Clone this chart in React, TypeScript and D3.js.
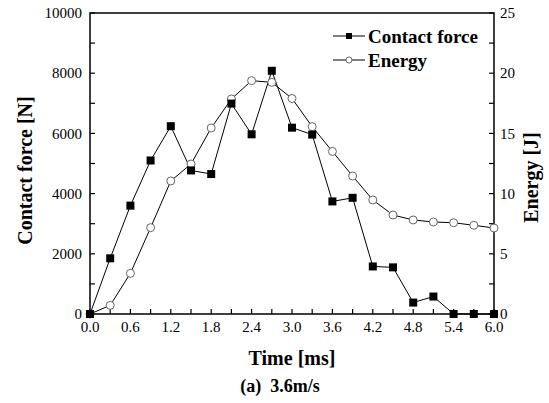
import React from "react";
import * as d3 from "d3";

const times = [0, 0.3, 0.6, 0.9, 1.2, 1.5, 1.8, 2.1, 2.4, 2.7, 3.0, 3.3, 3.6, 3.9, 4.2, 4.5, 4.8, 5.1, 5.4, 5.7, 6.0];
const contactForce = [0, 1850, 3600, 5100, 6240, 4770, 4650, 6990, 5970, 8080, 6190, 5960, 3740, 3860, 1580, 1550, 380, 580, 0, 0, 0];
const energy = [0, 0.72, 3.38, 7.17, 11.05, 12.46, 15.45, 17.86, 19.38, 19.24, 17.9, 15.56, 13.5, 11.46, 9.47, 8.22, 7.81, 7.64, 7.58, 7.37, 7.14];
const xTicks = [0, 0.6, 1.2, 1.8, 2.4, 3.0, 3.6, 4.2, 4.8, 5.4, 6.0];
const yLeftTicks = [0, 2000, 4000, 6000, 8000, 10000];
const yRightTicks = [0, 5, 10, 15, 20, 25];

const W = 549, H = 403;
const L = 90, R = 494, T = 13, B = 314;
const FONT = "Liberation Serif, Times New Roman, Times, DejaVu Serif, serif";

export default function App() {
  const x = d3.scaleLinear().domain([0, 6]).range([L, R]);
  const yL = d3.scaleLinear().domain([0, 10000]).range([B, T]);
  const yR = d3.scaleLinear().domain([0, 25]).range([B, T]);
  const lineF = d3.line<number>().x((_, i) => x(times[i])).y((d) => yL(d));
  const lineE = d3.line<number>().x((_, i) => x(times[i])).y((d) => yR(d));
  const minorX = d3.range(0, 6.001, 0.3);
  const minorYL = d3.range(0, 10001, 1000);
  const minorYR = d3.range(0, 25.001, 2.5);
  const tk = 5;
  const ts = { fontFamily: FONT };

  return (
    <svg width={W} height={H} style={{ position: "absolute", left: 0, top: 0, background: "#fff", fontFamily: FONT }}>
      <rect x={0} y={0} width={W} height={H} fill="#fff" />
      <g stroke="#000" strokeWidth={1.2}>
        {minorX.map((v, i) => (
          <line key={"x" + i} x1={x(v)} x2={x(v)} y1={B} y2={B - tk} />
        ))}
        {minorYL.map((v, i) => (
          <line key={"yl" + i} x1={L} x2={L + tk} y1={yL(v)} y2={yL(v)} />
        ))}
        {minorYR.map((v, i) => (
          <line key={"yr" + i} x1={R} x2={R - tk} y1={yR(v)} y2={yR(v)} />
        ))}
      </g>
      <rect x={L} y={T} width={R - L} height={B - T} fill="none" stroke="#000" strokeWidth={1.5} />
      <g fill="#000">
        {xTicks.map((v) => (
          <text key={"xl" + v} x={x(v)} y={332} textAnchor="middle" style={{ ...ts, fontSize: 15 }}>{v.toFixed(1)}</text>
        ))}
        {yLeftTicks.map((v) => (
          <text key={"yll" + v} x={82} y={yL(v)} dy="0.35em" textAnchor="end" style={{ ...ts, fontSize: 15 }}>{v}</text>
        ))}
        {yRightTicks.map((v) => (
          <text key={"yrl" + v} x={500} y={yR(v)} dy="0.35em" textAnchor="start" style={{ ...ts, fontSize: 15 }}>{v}</text>
        ))}
      </g>
      <path d={lineE(energy) || ""} fill="none" stroke="#000" strokeWidth={1} />
      <path d={lineF(contactForce) || ""} fill="none" stroke="#000" strokeWidth={1} />
      {energy.map((v, i) => (
        <circle key={"e" + i} cx={x(times[i])} cy={yR(v)} r={4} fill="#fff" stroke="#666" strokeWidth={1} />
      ))}
      {contactForce.map((v, i) => (
        <rect key={"f" + i} x={x(times[i]) - 4} y={yL(v) - 4} width={8} height={8} fill="#000" />
      ))}
      <g>
        <line x1={333} x2={365} y1={36} y2={36} stroke="#000" strokeWidth={1} />
        <rect x={346} y={33} width={6} height={6} fill="#000" />
        <text x={368} y={36} dy="0.35em" style={{ ...ts, fontSize: 19, fontWeight: "bold" }}>Contact force</text>
        <line x1={333} x2={365} y1={60} y2={60} stroke="#000" strokeWidth={1} />
        <circle cx={349} cy={60} r={3} fill="#fff" stroke="#666" strokeWidth={1} />
        <text x={368} y={60} dy="0.35em" style={{ ...ts, fontSize: 19, fontWeight: "bold" }}>Energy</text>
      </g>
      <text x={292} y={365} textAnchor="middle" style={{ ...ts, fontSize: 20, fontWeight: "bold" }}>Time [ms]</text>
      <text x={280} y={392} textAnchor="middle" style={{ ...ts, fontSize: 18, fontWeight: "bold", whiteSpace: "pre" }}>{"(a)  3.6m/s"}</text>
      <text transform={`translate(32, ${(T + B) / 2 + 7}) rotate(-90)`} textAnchor="middle" style={{ ...ts, fontSize: 20, fontWeight: "bold" }}>Contact force [N]</text>
      <text transform={`translate(538, ${(T + B) / 2 + 14}) rotate(-90)`} textAnchor="middle" style={{ ...ts, fontSize: 20, fontWeight: "bold" }}>Energy [J]</text>
    </svg>
  );
}
